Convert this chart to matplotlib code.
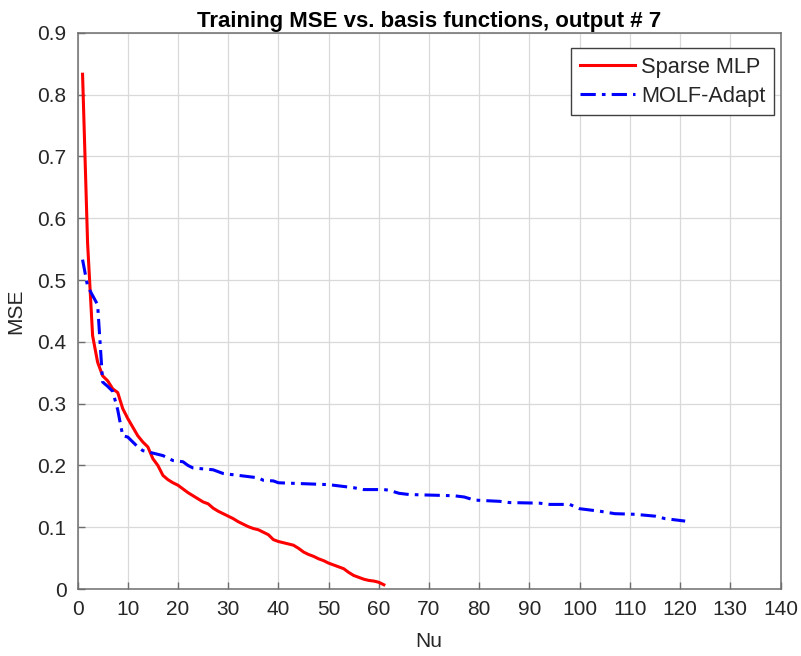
import matplotlib.pyplot as plt

# Sparse MLP, one value per Nu = 1..61
nu_sparse = list(range(1, 62))
mse_sparse = [0.833, 0.56, 0.41, 0.367, 0.345, 0.337, 0.324, 0.318, 0.292, 0.276,
              0.262, 0.248, 0.238, 0.23, 0.211, 0.2, 0.184, 0.177, 0.172, 0.168,
              0.162, 0.156, 0.151, 0.146, 0.141, 0.138, 0.131, 0.126, 0.122, 0.118,
              0.114, 0.109, 0.105, 0.101, 0.098, 0.096, 0.092, 0.088, 0.080, 0.077,
              0.075, 0.073, 0.071, 0.066, 0.060, 0.056, 0.053, 0.049, 0.046, 0.042,
              0.039, 0.036, 0.033, 0.027, 0.022, 0.019, 0.016, 0.014, 0.013, 0.011,
              0.007]

# MOLF-Adapt, read at its visible break points
nu_molf = [1, 2, 3, 4, 5, 6, 7, 8, 9, 10, 11, 12, 13, 14, 15, 17, 18, 19, 21, 22,
           23, 27, 28, 29, 34, 36, 37, 39, 40, 50, 52, 55, 57, 61, 62, 64, 66, 75,
           77, 79, 84, 86, 92, 94, 98, 100, 104, 107, 111, 115, 117, 121]
mse_molf = [0.533, 0.49, 0.475, 0.46, 0.335, 0.328, 0.32, 0.29, 0.248, 0.246,
            0.238, 0.23, 0.224, 0.222, 0.22, 0.216, 0.212, 0.208, 0.206, 0.2,
            0.196, 0.193, 0.19, 0.187, 0.182, 0.18, 0.176, 0.175, 0.172, 0.169,
            0.167, 0.164, 0.161, 0.161, 0.16, 0.155, 0.153, 0.151, 0.149, 0.144,
            0.142, 0.14, 0.139, 0.137, 0.137, 0.13, 0.126, 0.122, 0.121, 0.118,
            0.114, 0.11]

xticks = list(range(0, 141, 10))
yticks = [0, 0.1, 0.2, 0.3, 0.4, 0.5, 0.6, 0.7, 0.8, 0.9]

plt.rcParams['font.family'] = ['Liberation Sans', 'DejaVu Sans']
txt = '#262626'
axc = '#6e6e6e'

fig = plt.figure(figsize=(8.01, 6.56), dpi=100)
ax = fig.add_axes([0.0968, 0.102, 0.8777, 0.848])

ax.plot(nu_sparse, mse_sparse, color='#ff0000', lw=2.2, label='Sparse MLP')
ax.plot(nu_molf, mse_molf, color='#0000ff', lw=2.2, dashes=(5, 2, 1.2, 2),
        label='MOLF-Adapt')

ax.set_xlim(0, 140)
ax.set_ylim(0, 0.9)
ax.set_xticks(xticks)
ax.set_yticks(yticks)
ax.set_yticklabels(['0'] + ['%.1f' % v for v in yticks[1:]])
ax.grid(True, color='#d9d9d9', lw=0.9)
ax.set_axisbelow(True)
ax.tick_params(direction='in', length=5, width=1, colors=axc, labelcolor=txt,
               labelsize=15, pad=8)
for s in ax.spines.values():
    s.set_color(axc)
    s.set_linewidth(1.1)

ax.set_xlabel('Nu', fontsize=15, color=txt, labelpad=9)
ax.set_ylabel('MSE', fontsize=15, color=txt, labelpad=9)
ax.set_title('Training MSE vs. basis functions, output # 7', fontsize=16,
             fontweight='bold', color='black', pad=4)

leg = ax.legend(loc='upper right', bbox_to_anchor=(0.991, 0.972),
                borderaxespad=0, fontsize=15.7, fancybox=False, framealpha=1,
                edgecolor='#404040', handlelength=2.5, handletextpad=0.3,
                labelspacing=0.35, borderpad=0.4)
leg.get_frame().set_linewidth(1)
for t in leg.get_texts():
    t.set_color(txt)

fig.savefig('out.png', dpi=100)
